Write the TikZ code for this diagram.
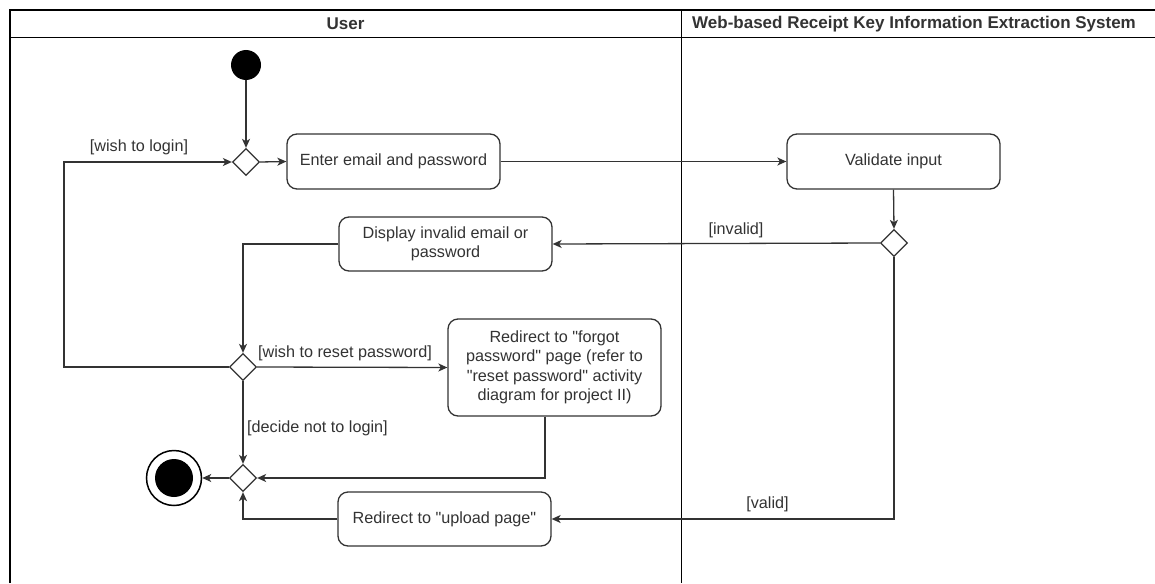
\documentclass[tikz,border=0pt]{standalone}
\usepackage{fontspec}
\setmainfont{Liberation Sans}[Ligatures=TeXOff]
\usetikzlibrary{shapes.geometric,arrows.meta}

\definecolor{ink}{HTML}{333333}

\tikzset{
  lane/.style={draw=black, line width=1.3pt},
  act/.style={draw=ink, fill=white, rounded corners=10pt, line width=1.3pt,
    minimum width=213pt, minimum height=55pt, align=center, text=ink,
    inner sep=2pt, font=\fontsize{16.2}{19.5}\selectfont},
  dec/.style={diamond, draw=ink, fill=white, line width=1.3pt, inner sep=0pt,
    minimum width=27pt, minimum height=27pt},
  guard/.style={text=ink, inner sep=1pt, font=\fontsize{16.2}{19.5}\selectfont},
  head/.style={text=ink, font=\fontsize{17}{20}\selectfont\bfseries},
  flow/.style={draw=ink, line width=1.3pt,
    -{Stealth[length=9pt,width=8pt,inset=2.5pt]}},
}

\begin{document}
\begin{tikzpicture}[x=1pt,y=-1pt]
\useasboundingbox (0,0) rectangle (1155,583);
\fill[white] (0,0) rectangle (1155,583);

% swimlanes
\draw[lane] (10,583) -- (10,10) -- (1155,10);
\draw[lane] (10,37.7) -- (1155,37.7);
\draw[lane] (681.5,10) -- (681.5,583);
\node[head] (hUser) at (345.5,24) {User};
\node[head] (hSys) at (914,24) {Web-based Receipt Key Information Extraction System};

% nodes
\node[circle, fill=black, minimum size=30pt, inner sep=0pt] (start) at (246,65) {};
\node[dec] (d1) at (246,162) {};
\node[act] (enter) at (393.5,161.5) {Enter email and password};
\node[act] (validate) at (893.5,161.5) {Validate input};
\node[dec] (d2) at (894,243) {};
\node[act, minimum height=54pt] (display) at (445.5,244) {Display invalid email or\\password};
\node[dec] (d3) at (243,367) {};
\node[act, minimum height=97pt] (forgot) at (554.5,367.5)
  {Redirect to "forgot\\password" page (refer to\\"reset password" activity\\diagram for project II)};
\node[dec] (d4) at (243,478) {};
\node[circle, draw=black, line width=1.5pt, fill=white, minimum size=55pt, inner sep=0pt] (stop) at (174,478) {};
\node[circle, fill=black, minimum size=38pt, inner sep=0pt] (stopdot) at (stop.center) {};
\node[act, minimum height=54pt] (upload) at (444.5,519) {Redirect to "upload page"};

\coordinate (loop) at (64,367);

% connectors
\draw[flow] (start) -- (d1.north);
\draw[flow] (d1.east) -- (enter.west);
\draw[flow] (enter.east) -- (validate.west);
\draw[flow] (validate.south) -- (d2.north);
\draw[flow] (d2.west) -- (display.east);
\draw[flow] (display.west) -| (d3.north);
\draw[flow] (d3.west) -- (loop) |- (d1.west);
\draw[flow] (d3.east) -- (forgot.west);
\draw[flow] (d3.south) -- (d4.north);
\draw[flow] ([xshift=-9.5pt]forgot.south) |- (d4.east);
\draw[flow] (d4.west) -- (stop.east);
\draw[flow] (upload.west) -| (d4.south);
\draw[flow] (d2.south) |- (upload.east);

% guards
\node[guard] (gLogin) at (139,147) {[wish to login]};
\node[guard] (gInvalid) at (736,230) {[invalid]};
\node[guard] (gReset) at (345,353) {[wish to reset password]};
\node[guard, anchor=west] (gQuit) at (246,428) {[decide not to login]};
\node[guard] (gValid) at (767.5,504) {[valid]};
\end{tikzpicture}
\end{document}
